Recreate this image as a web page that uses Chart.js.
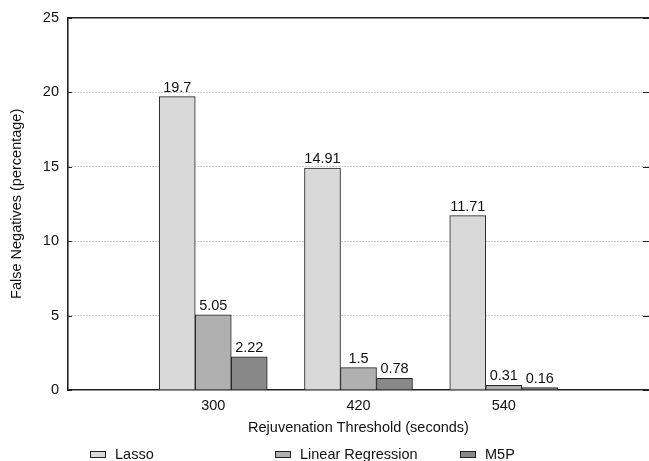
<!DOCTYPE html>
<html>
<head>
<meta charset="utf-8">
<script src="https://cdn.jsdelivr.net/npm/chart.js@4.4.0/dist/chart.umd.min.js"></script>
<style>
  body { margin: 0; background: #fff; }
  canvas { display: block; }
</style>
</head>
<body>
<canvas id="myChart" width="649" height="461"></canvas>
<script>
// rejuvenation thresholds (seconds) and false negatives (%)
const thresholds = [300, 420, 540]
const seriesNames = ['Lasso', 'Linear Regression', 'M5P']
const lasso = [19.7, 14.91, 11.71]
const linearRegression = [5.05, 1.5, 0.31]
const m5p = [2.22, 0.78, 0.16]
const yTicks = [0, 5, 10, 15, 20, 25]

const barColors = ['#d9d9d9', '#b0b0b0', '#888888']
const ink = '#111'
const fontFamily = '"Liberation Sans", Arial, sans-serif'
const fontSize = 14.5

Chart.defaults.font.family = fontFamily
Chart.defaults.font.size = fontSize
Chart.defaults.color = ink

const toPoints = vals => vals.map((v, i) => ({ x: thresholds[i], y: v }))

// numbers above the bars
const barValues = {
  id: 'barValues',
  afterDatasetsDraw(chart) {
    const ctx = chart.ctx
    ctx.save()
    ctx.font = fontSize + 'px ' + fontFamily
    ctx.fillStyle = ink
    ctx.textAlign = 'center'
    ctx.textBaseline = 'alphabetic'
    chart.data.datasets.forEach((ds, i) => {
      chart.getDatasetMeta(i).data.forEach((bar, j) => {
        ctx.fillText(String(ds.data[j].y), bar.x, bar.y - 5)
      })
    })
    ctx.restore()
  }
}

// small inward tick marks on both sides, gnuplot style
const frameTicks = {
  id: 'frameTicks',
  afterDraw(chart) {
    const { ctx, chartArea: a, scales } = chart
    ctx.save()
    ctx.strokeStyle = '#222'
    ctx.lineWidth = 1
    yTicks.forEach(v => {
      const py = Math.round(scales.y.getPixelForValue(v)) + 0.5
      ctx.beginPath()
      ctx.moveTo(a.left, py)
      ctx.lineTo(a.left + 4, py)
      ctx.moveTo(a.right - 6, py)
      ctx.lineTo(a.right, py)
      ctx.stroke()
    })
    ctx.restore()
  }
}

// legend spread in three even columns below the axis title
const columnLegend = {
  id: 'columnLegend',
  afterDraw(chart) {
    const ctx = chart.ctx
    ctx.save()
    ctx.font = fontSize + 'px ' + fontFamily
    chart.data.datasets.forEach((ds, i) => {
      const x = 90 + i * 185
      ctx.fillStyle = ds.backgroundColor
      ctx.fillRect(x, 451, 16, 7)
      ctx.strokeStyle = '#222'
      ctx.lineWidth = 1
      ctx.strokeRect(x + 0.5, 451.5, 15, 6)
      ctx.fillStyle = ink
      ctx.textAlign = 'left'
      ctx.textBaseline = 'middle'
      ctx.fillText(ds.label, x + 25, 455)
    })
    ctx.restore()
  }
}

const seriesData = [lasso, linearRegression, m5p]

new Chart(document.getElementById('myChart'), {
  type: 'bar',
  data: {
    datasets: seriesNames.map((name, i) => ({
      label: name,
      data: toPoints(seriesData[i]),
      backgroundColor: barColors[i],
      borderColor: '#222',
      borderWidth: 1,
      barThickness: 36,
    })),
  },
  options: {
    responsive: false,
    animation: false,
    layout: { padding: { top: 15, right: 0, bottom: 0, left: 0 } },
    plugins: { legend: { display: false }, tooltip: { enabled: false } },
    scales: {
      x: {
        type: 'linear',
        position: 'bottom',
        min: 180,
        max: 660,
        offset: false,
        grid: { display: false, drawTicks: false },
        border: { color: '#222', width: 1.6 },
        afterBuildTicks: s => { s.ticks = thresholds.map(v => ({ value: v })) },
        afterFit: s => { s.height = 71 },
        ticks: { padding: 7, callback: v => String(v) },
        title: {
          display: true,
          text: 'Rejuvenation Threshold (seconds)',
          padding: { top: 0, bottom: 24 },
        },
      },
      xTop: {
        type: 'linear',
        position: 'top',
        min: 180,
        max: 660,
        grid: { display: false, drawTicks: false },
        ticks: { display: false },
        border: { color: '#222', width: 1.6 },
        afterFit: s => { s.height = 0 },
      },
      y: {
        min: 0,
        max: 25,
        afterBuildTicks: s => { s.ticks = yTicks.map(v => ({ value: v })) },
        afterFit: s => { s.width = 68 },
        ticks: { padding: 9 },
        grid: {
          drawTicks: false,
          color: c => (c.tick && (c.tick.value === 0 || c.tick.value === 25)) ? 'rgba(0,0,0,0)' : '#999',
        },
        border: { color: '#222', width: 1.6, dash: [1, 2] },
        title: {
          display: true,
          text: 'False Negatives (percentage)',
          padding: { top: 8, bottom: 0 },
        },
      },
    },
  },
  plugins: [barValues, frameTicks, columnLegend],
})
</script>
</body>
</html>
